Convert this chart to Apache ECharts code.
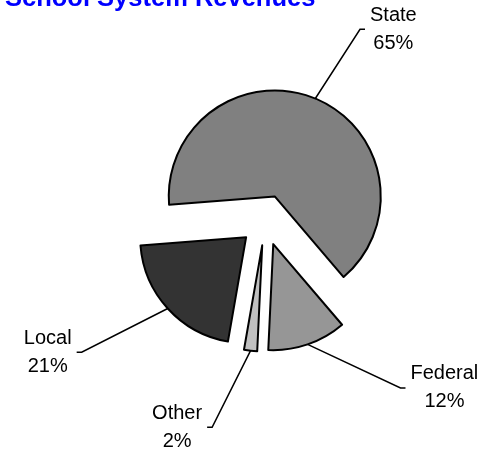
<!DOCTYPE html>
<html><head><meta charset="utf-8">
<script src="https://cdn.jsdelivr.net/npm/echarts@6/dist/echarts.min.js"></script>
<style>html,body{margin:0;padding:0;background:#fff}#c{width:481px;height:452px}</style>
</head><body><div id="c"></div>
<script>
const titleText = 'School System Revenues';
const categories = ['State', 'Federal', 'Other', 'Local'];
const values = [65, 12, 2, 21];

const sliceColors = ['#808080', '#969696', '#C0C0C0', '#333333'];
const leaderLen = [75, 46, 77, 65];
const leaderLen2 = [21, 83, 35, 43];

const chart = echarts.init(document.getElementById('c'), null, {renderer: 'canvas'});
const font = '"Liberation Sans", Arial, sans-serif';

chart.setOption({
  animation: false,
  title: {
    text: titleText, left: 5, top: -14, padding: 0,
    textStyle: {color: '#0000FF', fontWeight: 'bold', fontSize: 25.5, fontFamily: font}
  },
  series: [{
    type: 'pie',
    center: [265, 220],
    radius: [0, 106],
    startAngle: 184.5,
    clockwise: true,
    selectedMode: 'multiple',
    selectedOffset: 25.5,
    avoidLabelOverlap: false,
    itemStyle: {borderColor: '#000', borderWidth: 2},
    select: {itemStyle: {borderColor: '#000', borderWidth: 2}},
    emphasis: {disabled: true},
    label: {
      show: true, position: 'outside', distanceToLabelLine: 5,
      formatter: '{t|{b}}\n{t|{d}%}',
      color: '#000', fontFamily: font, fontSize: 20,
      rich: {t: {align: 'center', fontSize: 20, lineHeight: 28, fontFamily: font, color: '#000'}}
    },
    labelLine: {show: true, lineStyle: {color: '#000', width: 1.5}},
    labelLayout: function (p) {
      const pts = p.labelLinePoints;
      if (!pts) return {};
      const a = pts[0], e = pts[2];
      const s = e[0] > a[0] ? 1 : -1;
      return {labelLinePoints: [[a[0], a[1]], [e[0] - s * 5, e[1]], [e[0], e[1]]]};
    },
    data: categories.map((name, i) => ({
      name: name, value: values[i], selected: true,
      itemStyle: {color: sliceColors[i]},
      labelLine: {length: leaderLen[i], length2: leaderLen2[i]}
    }))
  }]
});
</script></body></html>
